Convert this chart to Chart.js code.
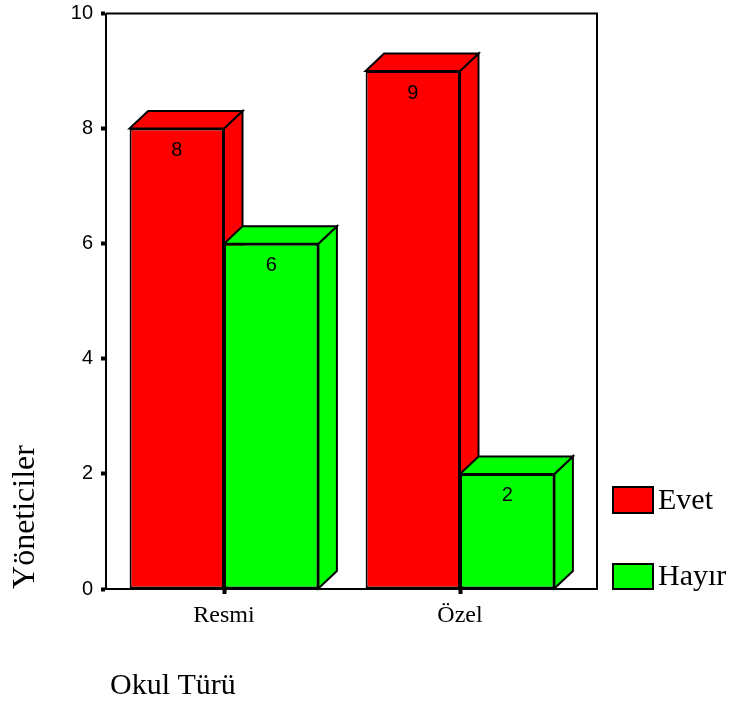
<!DOCTYPE html>
<html>
<head>
<meta charset="utf-8">
<script src="https://cdn.jsdelivr.net/npm/chart.js@4"></script>
<style>
  html, body { margin: 0; padding: 0; background: #fff; }
  canvas { display: block; }
</style>
</head>
<body>
<canvas id="c" width="730" height="702"></canvas>
<script>
const categories = ["Resmi", "Özel"];
const seriesNames = ["Evet", "Hayır"];
const evetValues = [8, 9];
const hayirValues = [6, 2];
const yTicks = [0, 2, 4, 6, 8, 10];
const seriesColors = ["#FF0000", "#00FF00"];
const xTitle = "Okul Türü";
const yTitle = "Yöneticiler";

const DX = 18.5, DY = 17.5;

const threeD = {
  id: 'threeD',
  beforeDatasetsDraw(chart) {
    const ctx = chart.ctx;
    const n = chart.data.labels.length;
    for (let i = 0; i < n; i++) {
      chart.data.datasets.forEach((ds, d) => {
        const el = chart.getDatasetMeta(d).data[i];
        const w = el.width;
        const left = el.x - w / 2, right = el.x + w / 2;
        const top = el.y, base = el.base;
        ctx.save();
        ctx.fillStyle = ds.backgroundColor;
        ctx.strokeStyle = '#000';
        ctx.lineWidth = 2;
        ctx.lineJoin = 'miter';
        ctx.beginPath();
        ctx.moveTo(right, top);
        ctx.lineTo(right + DX, top - DY);
        ctx.lineTo(right + DX, base - DY);
        ctx.lineTo(right, base);
        ctx.closePath();
        ctx.fill(); ctx.stroke();
        ctx.beginPath();
        ctx.moveTo(left, top);
        ctx.lineTo(left + DX, top - DY);
        ctx.lineTo(right + DX, top - DY);
        ctx.lineTo(right, top);
        ctx.closePath();
        ctx.fill(); ctx.stroke();
        ctx.restore();
      });
    }
  },
  afterDatasetsDraw(chart) {
    const ctx = chart.ctx;
    ctx.save();
    ctx.fillStyle = '#000';
    ctx.font = '20px "Liberation Sans", Arial, sans-serif';
    ctx.textAlign = 'center';
    ctx.textBaseline = 'middle';
    chart.data.datasets.forEach((ds, d) => {
      chart.getDatasetMeta(d).data.forEach((el, i) => {
        ctx.fillText(String(ds.data[i]), el.x, el.y + 22);
      });
    });
    ctx.restore();
  },
  afterDraw(chart) {
    const ctx = chart.ctx;
    const a = chart.chartArea;
    const rightEdge = a.right + DX + 0.5;
    ctx.save();
    ctx.strokeStyle = '#000';
    ctx.lineWidth = 2;
    ctx.beginPath();
    ctx.moveTo(a.left, a.top);
    ctx.lineTo(rightEdge, a.top);
    ctx.lineTo(rightEdge, a.bottom);
    ctx.lineTo(a.right, a.bottom);
    ctx.stroke();

    ctx.fillStyle = '#000';
    ctx.font = '32px "Liberation Serif", "Times New Roman", serif';
    ctx.textBaseline = 'middle';
    ctx.save();
    ctx.translate(26, 517);
    ctx.rotate(-Math.PI / 2);
    ctx.textAlign = 'center';
    ctx.fillText(yTitle, 0, 0);
    ctx.restore();

    ctx.font = '30px "Liberation Serif", "Times New Roman", serif';
    ctx.textAlign = 'left';
    ctx.fillText(xTitle, 110, 686);

    const boxes = [{ y: 487, h: 26 }, { y: 564, h: 25 }];
    ctx.font = '30px "Liberation Serif", "Times New Roman", serif';
    seriesNames.forEach((name, k) => {
      const b = boxes[k];
      ctx.fillStyle = seriesColors[k];
      ctx.fillRect(613, b.y, 40, b.h);
      ctx.strokeStyle = '#000';
      ctx.lineWidth = 2;
      ctx.strokeRect(613, b.y, 40, b.h);
      ctx.fillStyle = '#000';
      ctx.textAlign = 'left';
      ctx.textBaseline = 'middle';
      ctx.fillText(name, 658, b.y + b.h / 2 + 1);
    });
    ctx.restore();
  }
};

new Chart(document.getElementById('c'), {
  type: 'bar',
  data: {
    labels: categories,
    datasets: [
      { label: seriesNames[0], data: evetValues, backgroundColor: seriesColors[0] },
      { label: seriesNames[1], data: hayirValues, backgroundColor: seriesColors[1] }
    ]
  },
  options: {
    responsive: false,
    animation: false,
    devicePixelRatio: 1,
    layout: { padding: { left: 0, right: 152, top: 13.5, bottom: 0 } },
    datasets: {
      bar: {
        categoryPercentage: 0.8,
        barPercentage: 1.0,
        borderColor: '#000',
        borderWidth: 2,
        borderSkipped: false
      }
    },
    plugins: {
      legend: { display: false },
      tooltip: { enabled: false }
    },
    scales: {
      x: {
        offset: true,
        grid: {
          offset: false,
          drawOnChartArea: false,
          drawTicks: true,
          tickLength: 5,
          tickWidth: 4,
          tickColor: '#000'
        },
        border: { display: true, color: '#000', width: 2 },
        ticks: {
          color: '#000',
          padding: 7,
          font: { family: '"Liberation Serif", "Times New Roman", serif', size: 24 }
        },
        afterFit(s) { s.height = 113; s.paddingLeft = 0; s.paddingRight = 0; }
      },
      y: {
        min: 0,
        max: 10,
        afterBuildTicks(s) { s.ticks = yTicks.map(v => ({ value: v })); },
        grid: {
          drawOnChartArea: false,
          drawTicks: true,
          tickLength: 5,
          tickWidth: 4,
          tickColor: '#000'
        },
        border: { display: true, color: '#000', width: 2 },
        ticks: {
          color: '#000',
          padding: 8,
          font: { family: '"Liberation Sans", Arial, sans-serif', size: 20 }
        },
        afterFit(s) { s.width = 106; s.paddingTop = 0; s.paddingBottom = 0; }
      }
    }
  },
  plugins: [threeD]
});
</script>
</body>
</html>
